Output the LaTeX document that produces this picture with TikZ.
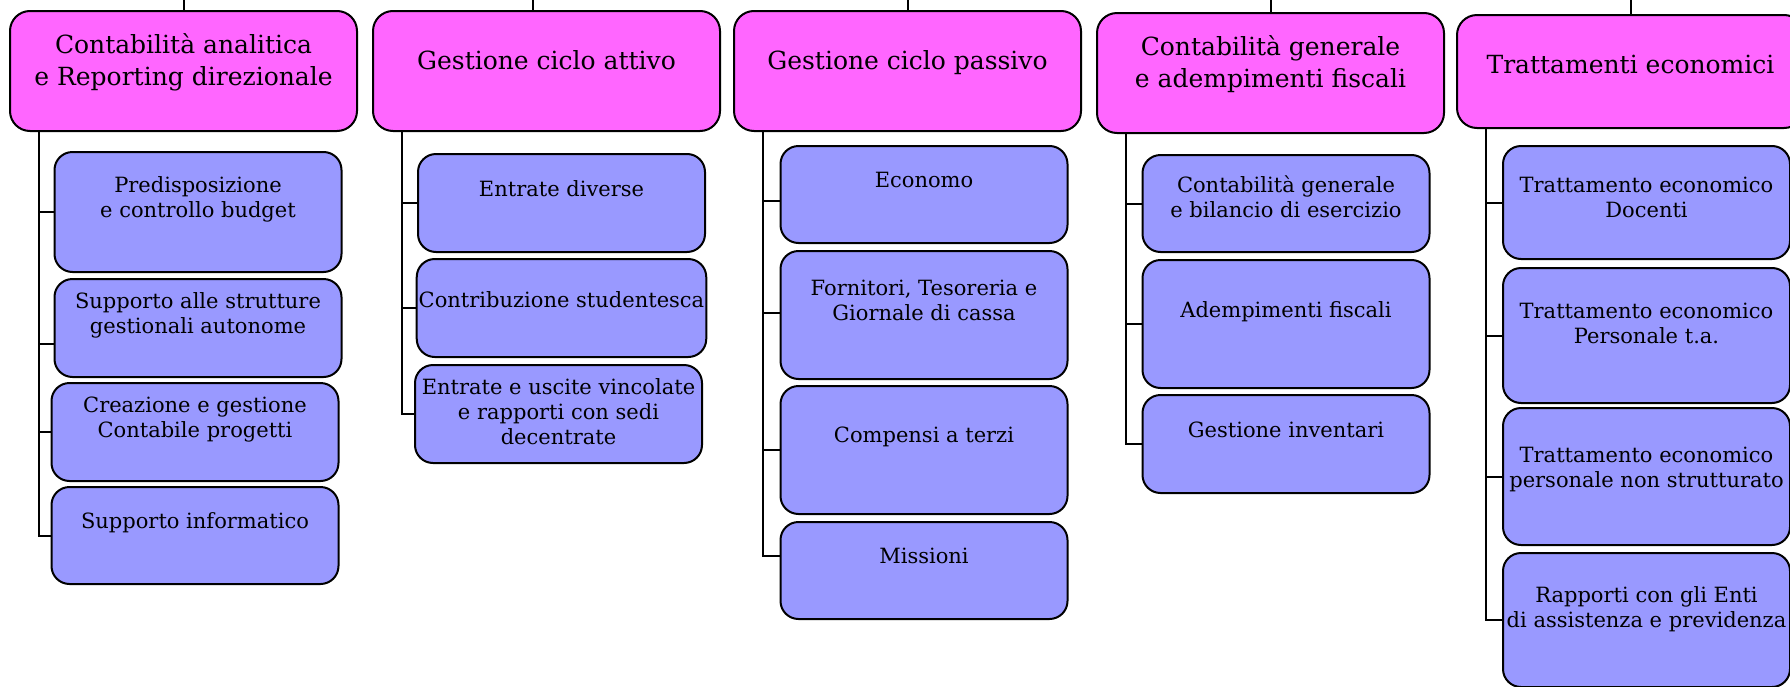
\documentclass[tikz,border=0pt]{standalone}
\usepackage{fontspec}
\setmainfont{DejaVu Serif}
\usepackage{tikz}
\usetikzlibrary{calc,positioning}
\definecolor{headpink}{RGB}{255,102,255}
\definecolor{subblue}{RGB}{153,153,255}

\begin{document}
\begin{tikzpicture}[x=0.5pt,y=-0.5pt,
  head/.style={draw, line width=1pt, rounded corners=10pt, fill=headpink, minimum width=173.5pt, minimum height=60pt, inner sep=1pt, align=center, text depth=11pt, font=\fontsize{12.5}{16}\selectfont},
  sub/.style={draw, line width=1pt, rounded corners=9pt, fill=subblue, minimum width=143.5pt, inner sep=1pt, align=center, text depth=14.5pt, font=\fontsize{10.5}{12.5}\selectfont},
  lift/.style={text depth=#1},
  link/.style={line width=1pt}]
\useasboundingbox (0,0) rectangle (1790,686);
\coordinate (top) at (0,0);
% aree
\node[head] (analitica) at (183.5,71) {Contabilità analitica\\e Reporting direzionale};
\node[head] (attivo) at (546.5,71) {Gestione ciclo attivo};
\node[head] (passivo) at (907.5,71) {Gestione ciclo passivo};
\node[head] (generale) at (1270.5,73) {Contabilità generale\\e adempimenti fiscali};
\node[head, minimum height=56.5pt, lift=7.5pt] (trattamenti) at (1630.5,71.5) {Trattamenti economici};
% uffici
\node[sub, minimum height=60pt] (budget) at (198,212) {Predisposizione\\e controllo budget};
\node[sub, minimum height=49pt] (strutture) at (198,328) {Supporto alle strutture\\gestionali autonome};
\node[sub, minimum height=49pt] (progetti) at (195,432) {Creazione e gestione\\Contabile progetti};
\node[sub, minimum height=48.5pt] (informatico) at (195,535.5) {Supporto informatico};
\node[sub, minimum height=49pt] (diverse) at (561.5,203) {Entrate diverse};
\node[sub, minimum height=49pt, lift=8.5pt] (studenti) at (561.5,308) {Contribuzione studentesca};
\node[sub, minimum height=49pt, lift=2.5pt] (vincolate) at (558.5,414) {Entrate e uscite vincolate\\e rapporti con sedi\\decentrate};
\node[sub, minimum height=48.5pt] (economo) at (924,194.5) {Economo};
\node[sub, minimum height=64pt] (fornitori) at (924,315) {Fornitori, Tesoreria e\\Giornale di cassa};
\node[sub, minimum height=64pt, lift=15.5pt] (compensi) at (924,450) {Compensi a terzi};
\node[sub, minimum height=48.5pt] (missioni) at (924,570.5) {Missioni};
\node[sub, minimum height=48.5pt, lift=6.5pt] (bilancio) at (1286,203.5) {Contabilità generale\\e bilancio di esercizio};
\node[sub, minimum height=64pt] (fiscali) at (1286,324) {Adempimenti fiscali};
\node[sub, minimum height=49pt] (inventari) at (1286,444) {Gestione inventari};
\node[sub, minimum height=56.5pt, lift=5.5pt] (docenti) at (1646.5,202.5) {Trattamento economico\\Docenti};
\node[sub, minimum height=67.5pt, lift=12.5pt] (ta) at (1646.5,335.5) {Trattamento economico\\Personale t.a.};
\node[sub, minimum height=68.5pt, lift=9.5pt] (nonstrutt) at (1646.5,476.5) {Trattamento economico\\personale non strutturato};
\node[sub, minimum height=67pt, lift=12.5pt] (enti) at (1646.5,620) {Rapporti con gli Enti\\di assistenza e previdenza};
% collegamenti
\foreach \h/\dx/\kids in {analitica/0/{budget/0,strutture/16,progetti/0,informatico/0},
                      attivo/-13.5/{diverse/0,studenti/0,vincolate/0},
                      passivo/0/{economo/6,fornitori/-2,compensi/0,missioni/-15},
                      generale/0/{bilancio/0,fiscali/0,inventari/0},
                      trattamenti/0/{docenti/0,ta/0,nonstrutt/0,enti/0}}{
  \draw[link] ($(\h.north)+(\dx,0)$) -- ($(\h.north |- top)+(\dx,0)$);
  \coordinate (t) at ($(\h.south west)+(30,0)$);
  \foreach \c/\dy in \kids
    \draw[link] (t) |- ($(\c.west)+(0,\dy)$);
}
\end{tikzpicture}
\end{document}
